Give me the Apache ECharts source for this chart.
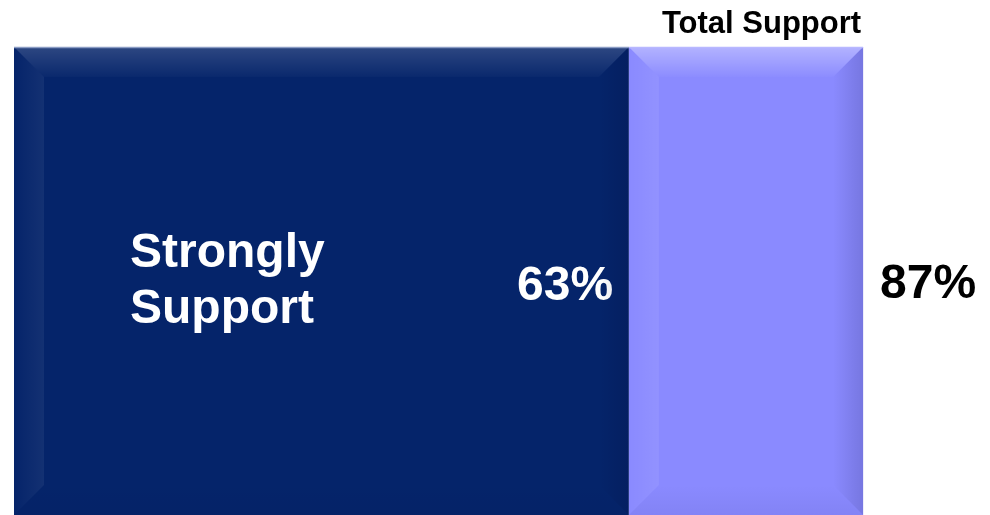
<!DOCTYPE html>
<html>
<head>
<meta charset="utf-8">
<script src="https://cdn.jsdelivr.net/npm/echarts@6/dist/echarts.min.js"></script>
<style>
  html, body { margin: 0; padding: 0; background: #fff; }
  #chart { width: 990px; height: 515px; }
</style>
</head>
<body>
<div id="chart"></div>
<script>
// data
const categories = ['Support'];
const segmentNames = ['Strongly Support', 'Total Support'];
const stronglySupport = [63];
const totalSupport = [87];
const colorList = ['#05246a', '#8a8aff'];

const somewhatPart = totalSupport.map((t, i) => t - stronglySupport[i]);

// segment ranges for the bevel overlay: [start, end, categoryIndex, segmentIndex]
const bevelData = [];
categories.forEach((c, i) => {
    bevelData.push([0, stronglySupport[i], i, 0]);
    bevelData.push([stronglySupport[i], totalSupport[i], i, 1]);
});

const font = "'Liberation Sans', Arial, sans-serif";
const B = 30;

function grad(x1, y1, x2, y2, c1, c2) {
    return new echarts.graphic.LinearGradient(x1, y1, x2, y2, [
        { offset: 0, color: c1 }, { offset: 1, color: c2 }
    ]);
}

const renderBevel = (params, api) => {
    const start = api.value(0), end = api.value(1), cat = api.value(2), seg = api.value(3);
    const p0 = api.coord([start, cat]);
    const p1 = api.coord([end, cat]);
    const h = api.size([0, 1])[1];
    const x0 = p0[0], x1 = p1[0], y0 = p0[1] - h / 2, y1 = p0[1] + h / 2;
    const light = seg === 1;
    const children = [
        { type: 'polygon', shape: { points: [[x0, y0], [x1, y0], [x1 - B, y0 + B], [x0 + B, y0 + B]] },
          style: { fill: grad(0, 0, 0, 1, light ? 'rgba(255,255,255,0.35)' : 'rgba(255,255,255,0.16)', 'rgba(255,255,255,0.02)') } },
        { type: 'polygon', shape: { points: [[x0, y0], [x0 + B, y0 + B], [x0 + B, y1 - B], [x0, y1]] },
          style: { fill: grad(0, 0, 1, 0, 'rgba(255,255,255,0.0)', light ? 'rgba(255,255,255,0.07)' : 'rgba(255,255,255,0.06)') } },
        { type: 'polygon', shape: { points: [[x1, y0], [x1 - B, y0 + B], [x1 - B, y1 - B], [x1, y1]] },
          style: { fill: grad(0, 0, 1, 0, 'rgba(0,0,40,0.0)', 'rgba(0,0,40,0.14)') } },
        { type: 'polygon', shape: { points: [[x0, y1], [x1, y1], [x1 - B, y1 - B], [x0 + B, y1 - B]] },
          style: { fill: grad(0, 0, 0, 1, 'rgba(0,0,60,0.0)', 'rgba(0,0,60,0.05)') } },
        { type: 'line', shape: { x1: x0, y1: y0 + 0.5, x2: x1, y2: y0 + 0.5 },
          style: { stroke: light ? '#b8b8ff' : '#8a9cc4', lineWidth: 1.5 } }
    ];
    if (seg === 0) {
        children.push({
            type: 'text',
            style: { x: x0 + 116, y: 282, text: 'Strongly\nSupport', fill: '#fff',
                     font: 'bold 48px ' + font, lineHeight: 56, verticalAlign: 'middle', align: 'left' }
        });
    } else {
        children.push({
            type: 'text',
            style: { x: x1 - 2, y: y0 - 23, text: segmentNames[1], fill: '#000',
                     font: 'bold 31px ' + font, verticalAlign: 'middle', align: 'right' }
        });
    }
    return { type: 'group', children: children };
};

const myChart = echarts.init(document.getElementById('chart'));
const option = {
    animation: false,
    grid: { left: 14, right: 0, top: 47, height: 482 },
    xAxis: { type: 'value', min: 0, max: 100, show: false },
    yAxis: { type: 'category', data: categories, show: false },
    series: [
        {
            name: segmentNames[0],
            type: 'bar',
            stack: 'total',
            barCategoryGap: 0,
            data: stronglySupport,
            itemStyle: { color: colorList[0] },
            label: {
                show: true,
                position: 'insideLeft',
                distance: 0,
                offset: [503, 6],
                formatter: '{c}%',
                color: '#fff',
                fontSize: 48,
                fontWeight: 'bold',
                fontFamily: font
            }
        },
        {
            name: segmentNames[1],
            type: 'bar',
            stack: 'total',
            barCategoryGap: 0,
            data: somewhatPart,
            itemStyle: { color: colorList[1] },
            label: {
                show: true,
                position: 'right',
                distance: 17,
                offset: [0, 4],
                formatter: (p) => totalSupport[p.dataIndex] + '%',
                color: '#000',
                fontSize: 48,
                fontWeight: 'bold',
                fontFamily: font
            }
        },
        {
            type: 'custom',
            renderItem: renderBevel,
            data: bevelData,
            z: 3,
            silent: true
        }
    ]
};
myChart.setOption(option);
</script>
</body>
</html>
